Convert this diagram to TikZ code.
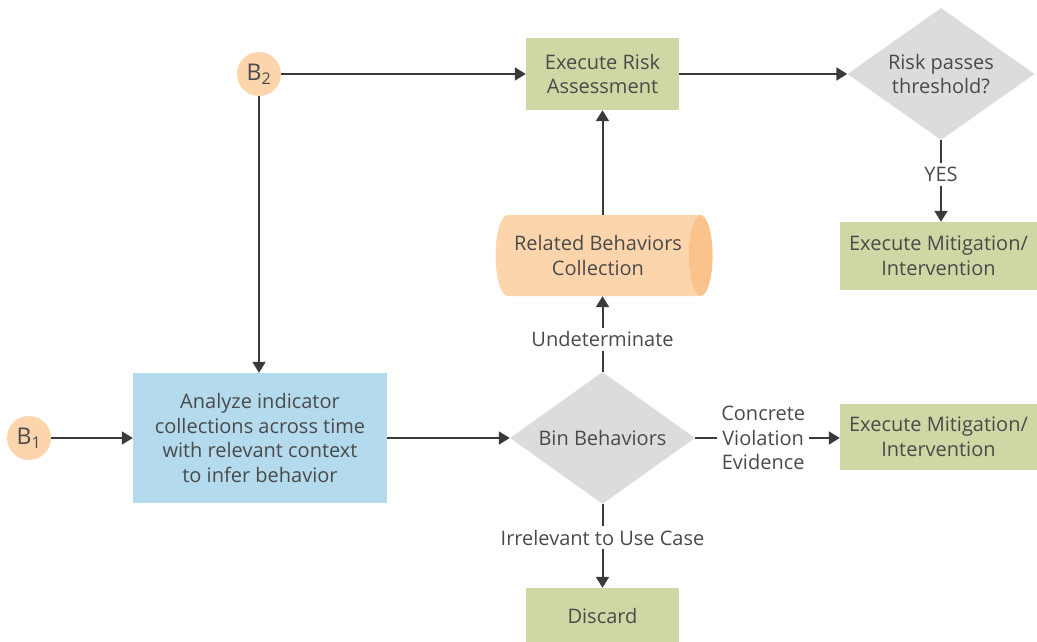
\documentclass[tikz,border=0pt]{standalone}
\usepackage{fontspec}
\setmainfont{Open Sans}
\usetikzlibrary{shapes.geometric,arrows.meta}
\definecolor{boxgreen}{HTML}{CFD8A5}
\definecolor{boxblue}{HTML}{B4DAEE}
\definecolor{peach}{HTML}{FDD5AD}
\definecolor{peachend}{HTML}{FBC38C}
\definecolor{diagray}{HTML}{DCDCDD}
\definecolor{ink}{HTML}{4A4A4A}
\definecolor{lineink}{HTML}{3A3A3A}
\tikzset{
  base/.style={text=ink, font=\fontsize{20}{24.5}\selectfont, align=center, inner sep=0pt},
  gbox/.style={base, rectangle, fill=boxgreen},
  bbox/.style={base, rectangle, fill=boxblue},
  circ/.style={base, circle, fill=peach, minimum size=44pt, font=\fontsize{23}{24}\selectfont},
  dia/.style={base, diamond, fill=diagray, aspect=1.42, inner sep=-8pt},
  cyl/.style={base, cylinder, shape aspect=0.6, cylinder uses custom fill, cylinder body fill=peach, cylinder end fill=peachend, minimum height=217pt, minimum width=81pt},
  arr/.style={draw=lineink, line width=2pt, -{Triangle[length=11pt,width=13pt]}},
  lbl/.style={base, fill=white, inner sep=4pt}
}
\begin{document}
\begin{tikzpicture}[x=1pt,y=-1pt]
\useasboundingbox (0,0) rectangle (1037,642);
\node[circ] (b2) at (259,74) {B\textsubscript{2}};
\node[circ] (b1) at (29,438) {B\textsubscript{1}};
\node[gbox, minimum width=153pt, minimum height=72pt] (era) at (602.5,74) {Execute Risk\\Assessment};
\node[dia, minimum width=187pt, minimum height=132pt] (rpt) at (941,74) {Risk passes\\threshold?};
\node[gbox, minimum width=197pt, minimum height=68pt] (em1) at (938.5,256) {Execute Mitigation/\\Intervention};
\node[cyl] (rbc) at (598,255.5) {Related Behaviors\\Collection};
\node[bbox, minimum width=254pt, minimum height=130pt] (an) at (260,438) {Analyze indicator\\collections across time\\with relevant context\\to infer behavior};
\node[dia, minimum width=185pt, minimum height=132pt] (bin) at (602.5,438) {Bin Behaviors};
\node[gbox, minimum width=197pt, minimum height=66pt] (em2) at (938.5,437) {Execute Mitigation/\\Intervention};
\node[gbox, minimum width=153pt, minimum height=56pt] (dis) at (602.5,616) {Discard};

\draw[arr] (b2) -- (era);
\draw[arr] (b2.south) -- (b2.south |- an.north);
\draw[arr] (b1) -- (an);
\draw[arr] (an) -- (bin);
\draw[arr] (bin.north) -- node[lbl, pos=0.43]{Undeterminate} (bin.north |- rbc.south);
\draw[arr] (era.south |- rbc.north) -- (era.south);
\draw[arr] (era) -- (rpt);
\draw[arr] (rpt.south) -- node[lbl, pos=0.42]{YES} (rpt.south |- em1.north);
\draw[arr] (bin.east) -- node[lbl, pos=0.47]{Concrete\\Violation\\Evidence} (bin.east -| em2.west);
\draw[arr] (bin.south) -- node[lbl, pos=0.4]{Irrelevant to Use Case} (dis.north);
\end{tikzpicture}
\end{document}
